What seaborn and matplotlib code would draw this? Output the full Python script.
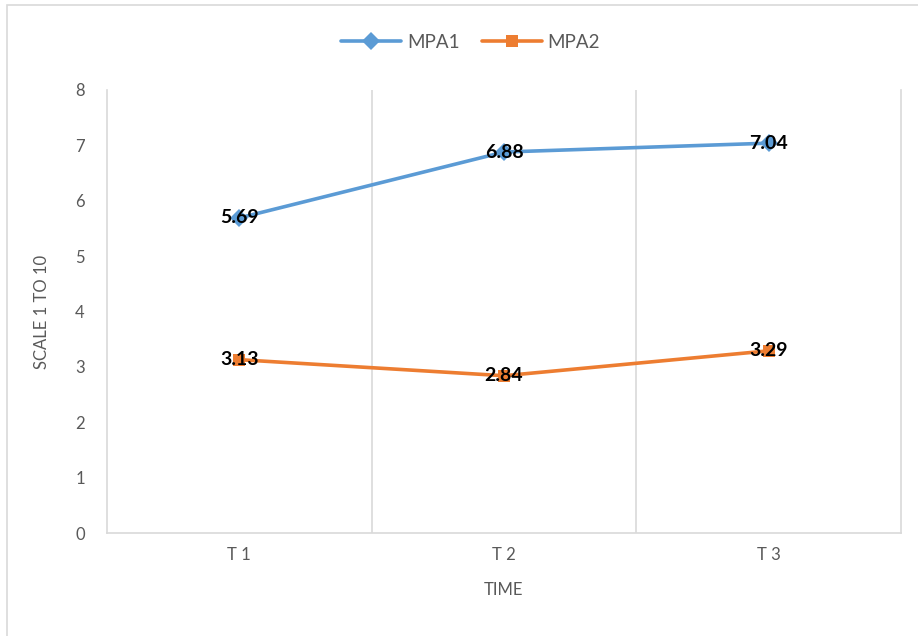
import matplotlib; matplotlib.use("Agg")
import numpy as np
import pandas as pd
import matplotlib.pyplot as plt
import seaborn as sns
from matplotlib.patches import Rectangle

# values
times = ["T1", "T2", "T3"]
tick_labels = ["T 1", "T 2", "T 3"]
mpa1 = [5.69, 6.88, 7.04]
mpa2 = [3.13, 2.84, 3.29]
series = ["MPA1", "MPA2"]

df = pd.DataFrame({
    "time": times * 2,
    "score": mpa1 + mpa2,
    "series": [series[0]] * 3 + [series[1]] * 3,
})

sns.set_theme(style="white")
plt.rcParams["font.family"] = ["Lato", "DejaVu Sans"]
GREY = "#595959"
colors = {"MPA1": "#5B9BD5", "MPA2": "#ED7D31"}

fig = plt.figure(figsize=(9.18, 6.36), dpi=100)
ax = fig.add_axes([107 / 918, 1 - 533 / 636, 794 / 918, 443 / 636])

sns.lineplot(data=df, x="time", y="score", hue="series", style="series",
             palette=colors, markers={"MPA1": "D", "MPA2": "s"}, dashes=False,
             sort=False, linewidth=2.6, markersize=9, markeredgewidth=0,
             ax=ax)

# data labels, bold and centred on the points
for _, r in df.iterrows():
    ax.text(times.index(r["time"]), r["score"], f"{r['score']:.2f}",
            ha="center", va="center", fontsize=14, fontweight="bold",
            color="black", zorder=5)

ax.set_xlim(-0.5, 2.5)
ax.set_ylim(0, 8)
ax.set_yticks(range(0, 9))
ax.set_xticks(range(3))
ax.set_xticklabels(tick_labels)
ax.tick_params(axis="both", colors=GREY, labelsize=12, length=0, pad=10)
ax.tick_params(axis="y", pad=16)
ax.set_xlabel("TIME", color=GREY, fontsize=12, labelpad=14)
ax.set_ylabel("SCALE 1 TO 10", color=GREY, fontsize=12, labelpad=18)

# Excel-style vertical category separators
for xv in [0.5, 1.5]:
    ax.axvline(xv, color="#D9D9D9", lw=1.2, zorder=0)
for side in ["left", "bottom", "right"]:
    ax.spines[side].set_color("#D9D9D9")
    ax.spines[side].set_linewidth(1.2)
ax.spines["top"].set_visible(False)

leg = ax.legend(loc="lower center", bbox_to_anchor=(0.458, 1.05), ncol=2,
                frameon=False, fontsize=13.5, handlelength=3.2, columnspacing=1.2,
                handletextpad=0.3)
for t in leg.get_texts():
    t.set_color(GREY)

# chart border
fig.patches.append(Rectangle((7 / 918, -0.1), 1.1, 1 - 5 / 636 + 0.1,
                             transform=fig.transFigure, fill=False,
                             edgecolor="#D9D9D9", lw=1.2))

fig.savefig("out.png", dpi=100)
